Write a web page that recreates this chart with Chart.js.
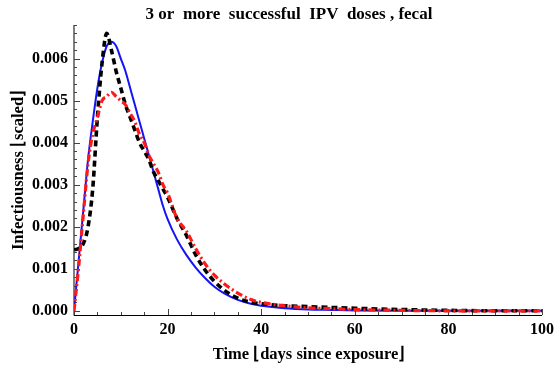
<!DOCTYPE html>
<html>
<head>
<meta charset="utf-8">
<script src="https://cdn.jsdelivr.net/npm/chart.js@4.4.1/dist/chart.umd.min.js"></script>
<style>
  html, body { margin: 0; padding: 0; background: #fff; }
  #wrap { width: 555px; height: 373px; }
</style>
</head>
<body>
<div id="wrap"><canvas id="chart" width="555" height="373"></canvas></div>
<script>
// days since exposure
const days = [0, 1, 2, 3, 4, 5, 6, 7, 8, 9, 10, 11, 12, 13, 14, 15, 16, 17, 18, 19, 20, 22, 24, 26, 28, 30, 32, 35, 38, 40, 45, 50, 55, 60, 70, 80, 90, 100];

// blue solid
const blueVals = [0, 0.0012, 0.0024, 0.0036, 0.0045, 0.0053, 0.0059, 0.0063, 0.0064, 0.0063, 0.0060, 0.0057, 0.0053, 0.0049, 0.0045, 0.0041, 0.0037, 0.0033, 0.0029, 0.0025, 0.00218, 0.0017, 0.00133, 0.00103, 0.00078, 0.00057, 0.00042, 0.00026, 0.00016, 0.00012, 0.00006, 0.00003, 0.00002, 0.00001, 0, 0, 0, 0];
// black dashed
const blackVals = [0.00145, 0.00148, 0.0016, 0.0020, 0.0029, 0.0046, 0.0059, 0.0066, 0.0062, 0.0057, 0.0053, 0.0049, 0.0046, 0.0043, 0.0040, 0.0038, 0.0036, 0.0033, 0.0031, 0.0029, 0.0027, 0.0022, 0.0018, 0.00133, 0.00097, 0.0007, 0.0005, 0.0003, 0.0002, 0.00017, 0.00012, 0.0001, 0.00008, 0.00006, 0.00003, 0.00001, 0, 0];
// red dot-dashed
const redVals = [0, 0.00105, 0.0023, 0.0035, 0.0042, 0.0046, 0.0050, 0.0051, 0.0052, 0.0051, 0.0050, 0.0049, 0.0047, 0.0045, 0.0042, 0.0040, 0.0037, 0.0035, 0.0033, 0.0030, 0.0028, 0.0022, 0.0019, 0.00148, 0.00112, 0.00085, 0.00065, 0.00042, 0.00026, 0.0002, 0.00012, 0.00007, 0.00005, 0.00003, 0.00001, 0, 0, 0];

const xTicks = [0, 20, 40, 60, 80, 100];
const yTicks = [0, 0.001, 0.002, 0.003, 0.004, 0.005, 0.006];

const titleText = "3 or  more  successful  IPV  doses , fecal";
const xTitle = "Time \u230Adays since exposure\u230B";
const yTitle = "Infectiousness \u230Ascaled\u230B";

const pts = (vals) => days.map((d, i) => ({ x: d, y: vals[i] }));
const serif = '"Liberation Serif", "Times New Roman", serif';

// frame with inward ticks, plus title and axis labels
const framePlugin = {
  id: "frame",
  beforeDatasetsDraw(chart) {
    const ctx = chart.ctx;
    const xs = chart.scales.x, ys = chart.scales.y;
    const a = chart.chartArea;
    ctx.save();
    ctx.strokeStyle = "#000";
    ctx.lineWidth = 1;
    ctx.beginPath();
    ctx.moveTo(a.left, a.top);
    ctx.lineTo(a.left, a.bottom + 0.5);
    ctx.lineTo(a.right, a.bottom + 0.5);
    ctx.stroke();

    ctx.strokeStyle = "#444";
    ctx.beginPath();
    for (let v = 0; v <= 100; v += 5) {
      const px = Math.round(xs.getPixelForValue(v)) + 0.5;
      const len = v % 20 === 0 ? 6 : 3;
      ctx.moveTo(px, a.bottom);
      ctx.lineTo(px, a.bottom - len);
    }
    for (let k = 0; k <= 34; k++) {
      const v = k * 0.0002;
      const py = Math.round(ys.getPixelForValue(v)) + 0.5;
      if (py < a.top) break;
      const len = k % 5 === 0 ? 6 : 3;
      ctx.moveTo(a.left, py);
      ctx.lineTo(a.left + len, py);
    }
    ctx.stroke();
    ctx.restore();
  },
  afterDraw(chart) {
    const ctx = chart.ctx;
    ctx.save();
    ctx.fillStyle = "#000";
    ctx.textAlign = "center";
    ctx.textBaseline = "middle";
    ctx.font = "bold 17px " + serif;
    ctx.fillText(titleText, 289, 15);
    ctx.font = "bold 16.5px " + serif;
    ctx.fillText(xTitle, 309, 355);
    ctx.translate(19, 170);
    ctx.rotate(-Math.PI / 2);
    ctx.fillText(yTitle, 0, 0);
    ctx.restore();
  }
};

new Chart(document.getElementById("chart"), {
  type: "line",
  data: {
    datasets: [
      {
        data: pts(redVals),
        borderColor: "#ff1a1a",
        borderWidth: 3.2,
        borderDash: [7, 3, 2, 3],
        order: 1
      },
      {
        data: pts(blackVals),
        borderColor: "#000",
        borderWidth: 3.6,
        borderDash: [6, 4],
        order: 2
      },
      {
        data: pts(blueVals),
        borderColor: "#1414f5",
        borderWidth: 2,
        order: 3
      }
    ]
  },
  options: {
    responsive: false,
    animation: false,
    events: [],
    layout: { padding: { top: 25, right: 13, left: 0, bottom: 0 } },
    elements: {
      point: { radius: 0 },
      line: { cubicInterpolationMode: "monotone", fill: false }
    },
    plugins: { legend: { display: false }, tooltip: { enabled: false } },
    scales: {
      x: {
        type: "linear",
        min: 0,
        max: 100,
        afterBuildTicks: (s) => { s.ticks = xTicks.map((v) => ({ value: v })); },
        afterFit: (s) => { s.height = 58; s.paddingLeft = 0; s.paddingRight = 0; },
        grid: { display: false, drawTicks: false },
        border: { display: false },
        ticks: {
          color: "#000",
          padding: 5,
          maxRotation: 0,
          font: { family: serif, size: 16, weight: "bold" }
        }
      },
      y: {
        type: "linear",
        min: -0.0001,
        max: 0.0068,
        afterBuildTicks: (s) => { s.ticks = yTicks.map((v) => ({ value: v })); },
        afterFit: (s) => { s.width = 74; s.paddingTop = 0; s.paddingBottom = 0; },
        grid: { display: false, drawTicks: false },
        border: { display: false },
        ticks: {
          color: "#000",
          padding: 6,
          font: { family: serif, size: 16, weight: "bold" },
          callback: (v) => v.toFixed(3)
        }
      }
    }
  },
  plugins: [framePlugin]
});
</script>
</body>
</html>
